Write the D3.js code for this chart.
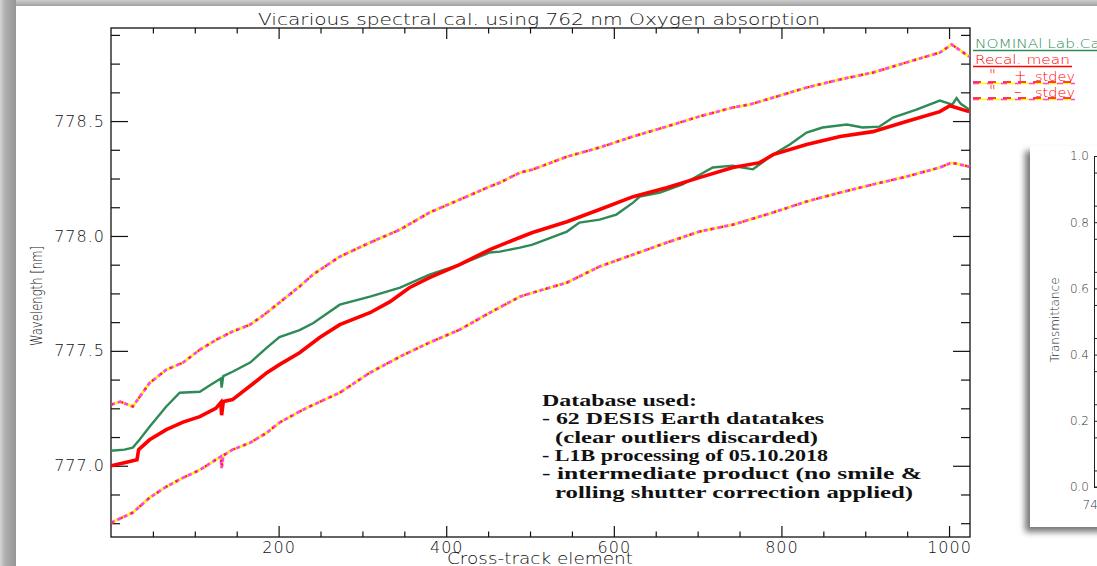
<html>
<head>
<script src="https://cdnjs.cloudflare.com/ajax/libs/d3/7.8.5/d3.min.js"></script>
</head>
<body style="margin: 0; background: #fff;">
<script>
// values (cross-track element, wavelength in nm)
const nomElem = [0, 16, 26, 34, 46, 66, 82, 106, 120, 131, 132, 134, 145, 166, 186, 201, 225, 241, 273, 309, 345, 380, 416, 452, 464, 488, 503, 544, 559, 583, 603, 623, 631, 655, 682, 718, 742, 750, 766, 790, 810, 830, 849, 878, 897, 917, 933, 961, 989, 1004, 1009, 1014, 1024]
const nomWave = [777.065, 777.07, 777.079, 777.113, 777.17, 777.258, 777.318, 777.322, 777.355, 777.38, 777.34, 777.39, 777.409, 777.449, 777.514, 777.56, 777.59, 777.62, 777.701, 777.736, 777.775, 777.832, 777.875, 777.928, 777.932, 777.949, 777.962, 778.019, 778.058, 778.071, 778.093, 778.145, 778.171, 778.189, 778.224, 778.298, 778.306, 778.3, 778.29, 778.354, 778.398, 778.45, 778.472, 778.485, 778.472, 778.476, 778.515, 778.55, 778.589, 778.572, 778.6, 778.575, 778.55]

const recElem = [0, 16, 31, 33, 46, 66, 86, 106, 125, 131, 132, 134, 145, 174, 186, 201, 225, 249, 273, 309, 333, 356, 380, 416, 452, 484, 503, 544, 583, 623, 663, 702, 742, 774, 790, 830, 870, 909, 949, 989, 1001, 1024]
const recWave = [777.0, 777.013, 777.026, 777.07, 777.113, 777.157, 777.19, 777.214, 777.25, 777.275, 777.22, 777.28, 777.288, 777.37, 777.405, 777.44, 777.492, 777.558, 777.614, 777.666, 777.714, 777.775, 777.819, 777.875, 777.941, 777.988, 778.015, 778.062, 778.115, 778.171, 778.21, 778.254, 778.298, 778.319, 778.354, 778.398, 778.433, 778.454, 778.498, 778.541, 778.567, 778.541]

const hiElem = [0, 11, 26, 46, 66, 86, 106, 126, 145, 166, 183, 201, 225, 241, 273, 309, 345, 380, 416, 452, 464, 488, 503, 544, 583, 623, 663, 702, 742, 762, 790, 830, 870, 909, 949, 989, 1003, 1024]
const hiWave = [777.266, 777.279, 777.258, 777.36, 777.418, 777.449, 777.505, 777.549, 777.584, 777.614, 777.658, 777.71, 777.78, 777.832, 777.91, 777.971, 778.028, 778.102, 778.158, 778.215, 778.232, 778.276, 778.289, 778.345, 778.385, 778.433, 778.476, 778.52, 778.559, 778.572, 778.602, 778.646, 778.681, 778.711, 778.755, 778.798, 778.833, 778.781]

const loElem = [0, 26, 46, 66, 86, 106, 131, 132, 134, 145, 166, 186, 201, 225, 237, 273, 309, 345, 380, 416, 452, 488, 503, 544, 583, 623, 663, 702, 742, 762, 790, 830, 870, 909, 949, 989, 1003, 1024]
const loWave = [776.752, 776.796, 776.861, 776.909, 776.948, 776.982, 777.04, 776.99, 777.045, 777.07, 777.1, 777.144, 777.188, 777.236, 777.258, 777.318, 777.405, 777.475, 777.536, 777.592, 777.666, 777.736, 777.753, 777.797, 777.867, 777.919, 777.971, 778.019, 778.049, 778.071, 778.102, 778.15, 778.189, 778.224, 778.258, 778.298, 778.319, 778.302]

const xMajor = [200, 400, 600, 800, 1000]
const yMajor = [777.0, 777.5, 778.0, 778.5]
const insetTicks = [0.0, 0.2, 0.4, 0.6, 0.8, 1.0]

const legendLabels = ["NOMINAl Lab.Cal.", "Recal. mean"]
const noteLines = [
  "Database used:",
  "- 62 DESIS Earth datatakes",
  "(clear outliers discarded)",
  "- L1B processing of 05.10.2018",
  "- intermediate product (no smile &",
  "rolling shutter correction applied)"
]

var width = 1097, height = 566
var plot = {left: 111, right: 970, top: 28, bottom: 537}
var thin = "'DejaVu Sans', sans-serif"

const svg = d3.select("body").append("svg")
    .attr("width", width)
    .attr("height", height)
    .style("display", "block")

const defs = svg.append("defs")
var gl = defs.append("linearGradient").attr("id", "leftband")
gl.append("stop").attr("offset", "0").attr("stop-color", "#d6d6d6")
gl.append("stop").attr("offset", "0.3").attr("stop-color", "#b0b0b0")
gl.append("stop").attr("offset", "1").attr("stop-color", "#959595")
var gt = defs.append("linearGradient").attr("id", "topband").attr("x2", 0).attr("y2", 1)
gt.append("stop").attr("offset", "0").attr("stop-color", "#cdcdcd")
gt.append("stop").attr("offset", "1").attr("stop-color", "#a2a2a2")
defs.append("filter").attr("id", "blur").attr("x", "-20%").attr("y", "-20%").attr("width", "140%").attr("height", "140%")
  .append("feGaussianBlur").attr("stdDeviation", 3)

// window chrome
svg.append("rect").attr("width", width).attr("height", height).attr("fill", "#fff")
svg.append("rect").attr("width", 16).attr("height", height).attr("fill", "url(#leftband)")
svg.append("rect").attr("x", 16).attr("width", width - 16).attr("height", 6).attr("fill", "url(#topband)")

const x = d3.scaleLinear().domain([0, 1025]).range([plot.left, plot.right])
const y = d3.scaleLinear().domain([776.69, 778.905]).range([plot.bottom, plot.top])

function styleAxis(g) {
  g.select(".domain").remove()
  g.attr("font-family", thin).attr("font-size", 16).attr("font-weight", 300).attr("color", "#111")
  g.selectAll("text").attr("fill", "#111").attr("letter-spacing", 1)
  g.selectAll("line").attr("stroke-width", 1.2)
}

var xMinor = d3.range(50, 1025, 50).filter(d => d % 200)
var yMinor = d3.range(776.75, 778.9, 0.125).filter(d => Math.abs(d * 2 - Math.round(d * 2)) > 0.01)

svg.append("g").attr("transform", `translate(0,${plot.bottom})`)
  .call(d3.axisBottom(x).tickValues(xMajor).tickSize(-11).tickSizeOuter(0).tickPadding(5).tickFormat(d3.format("d")))
  .call(styleAxis)
svg.append("g").attr("transform", `translate(0,${plot.bottom})`)
  .call(d3.axisBottom(x).tickValues(xMinor).tickSize(-5.5).tickSizeOuter(0).tickFormat(""))
  .call(styleAxis)
svg.append("g").attr("transform", `translate(0,${plot.top})`)
  .call(d3.axisTop(x).tickValues(xMajor).tickSize(-11).tickSizeOuter(0).tickFormat(""))
  .call(styleAxis)
svg.append("g").attr("transform", `translate(0,${plot.top})`)
  .call(d3.axisTop(x).tickValues(xMinor).tickSize(-5.5).tickSizeOuter(0).tickFormat(""))
  .call(styleAxis)

svg.append("g").attr("transform", `translate(${plot.left},0)`)
  .call(d3.axisLeft(y).tickValues(yMajor).tickSize(-17).tickSizeOuter(0).tickPadding(6).tickFormat(d3.format(".1f")))
  .call(styleAxis)
svg.append("g").attr("transform", `translate(${plot.left},0)`)
  .call(d3.axisLeft(y).tickValues(yMinor).tickSize(-9).tickSizeOuter(0).tickFormat(""))
  .call(styleAxis)
svg.append("g").attr("transform", `translate(${plot.right},0)`)
  .call(d3.axisRight(y).tickValues(yMajor).tickSize(-17).tickSizeOuter(0).tickFormat(""))
  .call(styleAxis)
svg.append("g").attr("transform", `translate(${plot.right},0)`)
  .call(d3.axisRight(y).tickValues(yMinor).tickSize(-9).tickSizeOuter(0).tickFormat(""))
  .call(styleAxis)

svg.append("rect")
  .attr("x", plot.left).attr("y", plot.top)
  .attr("width", plot.right - plot.left).attr("height", plot.bottom - plot.top)
  .attr("fill", "none").attr("stroke", "#111").attr("stroke-width", 1.3)

// titles
svg.append("text").attr("x", 258).attr("y", 25)
  .attr("font-family", thin).attr("font-size", 16).attr("font-weight", 300).attr("fill", "#111")
  .attr("textLength", 562).attr("lengthAdjust", "spacingAndGlyphs")
  .text("Vicarious spectral cal. using 762 nm Oxygen absorption")
svg.append("text").attr("x", 447).attr("y", 564)
  .attr("font-family", thin).attr("font-size", 15).attr("font-weight", 300).attr("fill", "#111")
  .attr("textLength", 186).attr("lengthAdjust", "spacingAndGlyphs")
  .text("Cross-track element")
svg.append("text").attr("transform", "translate(42,346) rotate(-90)")
  .attr("font-family", thin).attr("font-size", 16).attr("font-weight", 300).attr("fill", "#111")
  .attr("textLength", 100).attr("lengthAdjust", "spacingAndGlyphs")
  .text("Wavelength [nm]")

// curves
const line = d3.line().x(d => x(d[0])).y(d => y(d[1]))
const clip = defs.append("clipPath").attr("id", "plotclip")
clip.append("rect").attr("x", plot.left).attr("y", plot.top)
  .attr("width", plot.right - plot.left).attr("height", plot.bottom - plot.top)
const curves = svg.append("g").attr("clip-path", "url(#plotclip)")

function stdevPath(xs, ys) {
  var pts = d3.zip(xs, ys)
  curves.append("path").attr("d", line(pts)).attr("fill", "none")
    .attr("stroke", "#ffff00").attr("stroke-width", 2.8)
  curves.append("path").attr("d", line(pts)).attr("fill", "none")
    .attr("stroke", "#ff40ff").attr("stroke-width", 2.8).attr("stroke-dasharray", "4 3")
  curves.append("path").attr("d", line(pts)).attr("fill", "none")
    .attr("stroke", "#ff2020").attr("stroke-width", 2.2).attr("stroke-dasharray", "2 9")
}
stdevPath(hiElem, hiWave)
stdevPath(loElem, loWave)

curves.append("path").attr("d", line(d3.zip(nomElem, nomWave))).attr("fill", "none")
  .attr("stroke", "#2e8b57").attr("stroke-width", 2.4)
curves.append("path").attr("d", line(d3.zip(recElem, recWave))).attr("fill", "none")
  .attr("stroke", "#ff0000").attr("stroke-width", 3.6)

// note box
const noteX = [542, 542, 555, 542, 542, 555]
const noteW = [155, 282, 263, 286, 380, 358]
svg.append("g")
  .attr("font-family", "'Liberation Serif', 'DejaVu Serif', serif")
  .attr("font-size", 16).attr("font-weight", "bold").attr("fill", "#111")
  .selectAll("text").data(noteLines).join("text")
    .attr("x", (d, i) => noteX[i])
    .attr("y", (d, i) => 406 + i * 18.3)
    .attr("textLength", (d, i) => noteW[i])
    .attr("lengthAdjust", "spacingAndGlyphs")
    .text(d => d)

// legend, right of the frame
const leg = svg.append("g").attr("font-family", thin).attr("font-size", 13).attr("font-weight", 300)
leg.append("text").attr("x", 975).attr("y", 48).attr("fill", "#2e8b57")
  .attr("textLength", 134).attr("lengthAdjust", "spacingAndGlyphs").text(legendLabels[0])
leg.append("line").attr("x1", 973).attr("x2", 1097).attr("y1", 50.5).attr("y2", 50.5)
  .attr("stroke", "#2e8b57").attr("stroke-width", 1.3)
leg.append("text").attr("x", 975).attr("y", 64).attr("fill", "#ff0000")
  .attr("textLength", 95).attr("lengthAdjust", "spacingAndGlyphs").text(legendLabels[1])
leg.append("line").attr("x1", 973).attr("x2", 1072).attr("y1", 66.5).attr("y2", 66.5)
  .attr("stroke", "#ff0000").attr("stroke-width", 1.5)

;[["+", 81], ["\u2013", 97]].forEach(function (row) {
  var ty = row[1]
  leg.append("text").attr("x", 989).attr("y", ty).attr("fill", "#ff0000").attr("font-size", 15).text("\"")
  leg.append("text").attr("x", 1014).attr("y", ty).attr("fill", "#ff0000").attr("font-size", 15).text(row[0])
  leg.append("text").attr("x", 1035).attr("y", ty).attr("fill", "#ff0000")
    .attr("textLength", 40).attr("lengthAdjust", "spacingAndGlyphs").text("stdev")
  leg.append("line").attr("x1", 973).attr("x2", 1075).attr("y1", ty + 2.5).attr("y2", ty + 2.5)
    .attr("stroke", "#ffff00").attr("stroke-width", 1.5)
  leg.append("line").attr("x1", 973).attr("x2", 1075).attr("y1", ty + 2.5).attr("y2", ty + 2.5)
    .attr("stroke", "#ff40ff").attr("stroke-width", 1.5).attr("stroke-dasharray", "6 8")
  leg.append("line").attr("x1", 973).attr("x2", 1075).attr("y1", ty + 1).attr("y2", ty + 1)
    .attr("stroke", "#ff0000").attr("stroke-width", 1.3).attr("stroke-dasharray", "8 7")
})

// second window peeking in on the right (transmittance plot)
const win = svg.append("g")
win.append("rect").attr("x", 1025).attr("y", 151).attr("width", 80).attr("height", 381)
  .attr("fill", "#777").attr("filter", "url(#blur)")
win.append("rect").attr("x", 1030).attr("y", 146).attr("width", 67).attr("height", 381).attr("fill", "#fff")

const yi = d3.scaleLinear().domain([0, 1]).range([487, 156])
win.append("g").attr("transform", "translate(1094,0)")
  .call(d3.axisLeft(yi).tickValues(insetTicks).tickSize(-4).tickSizeOuter(0).tickPadding(5).tickFormat(d3.format(".1f")))
  .call(g => g.attr("font-family", thin).attr("font-size", 12).attr("font-weight", 300).attr("color", "#222"))
  .call(g => g.selectAll("text").attr("fill", "#333"))
win.append("g").attr("transform", "translate(1094,0)")
  .call(d3.axisLeft(yi).tickValues(d3.range(0.05, 1, 0.1)).tickSize(-4).tickSizeOuter(0).tickFormat(""))
  .call(g => g.select(".domain").remove())
  .call(g => g.attr("color", "#222"))
win.append("line").attr("x1", 1094).attr("x2", 1097).attr("y1", 487).attr("y2", 487).attr("stroke", "#222")
win.append("text").attr("transform", "translate(1059,320) rotate(-90)")
  .attr("text-anchor", "middle").attr("font-family", thin).attr("font-size", 12).attr("font-weight", 300)
  .attr("fill", "#333").text("Transmittance")
win.append("text").attr("x", 1094).attr("y", 509).attr("text-anchor", "middle")
  .attr("font-family", thin).attr("font-size", 12).attr("font-weight", 300).attr("fill", "#333").text("740")
</script>
</body>
</html>
